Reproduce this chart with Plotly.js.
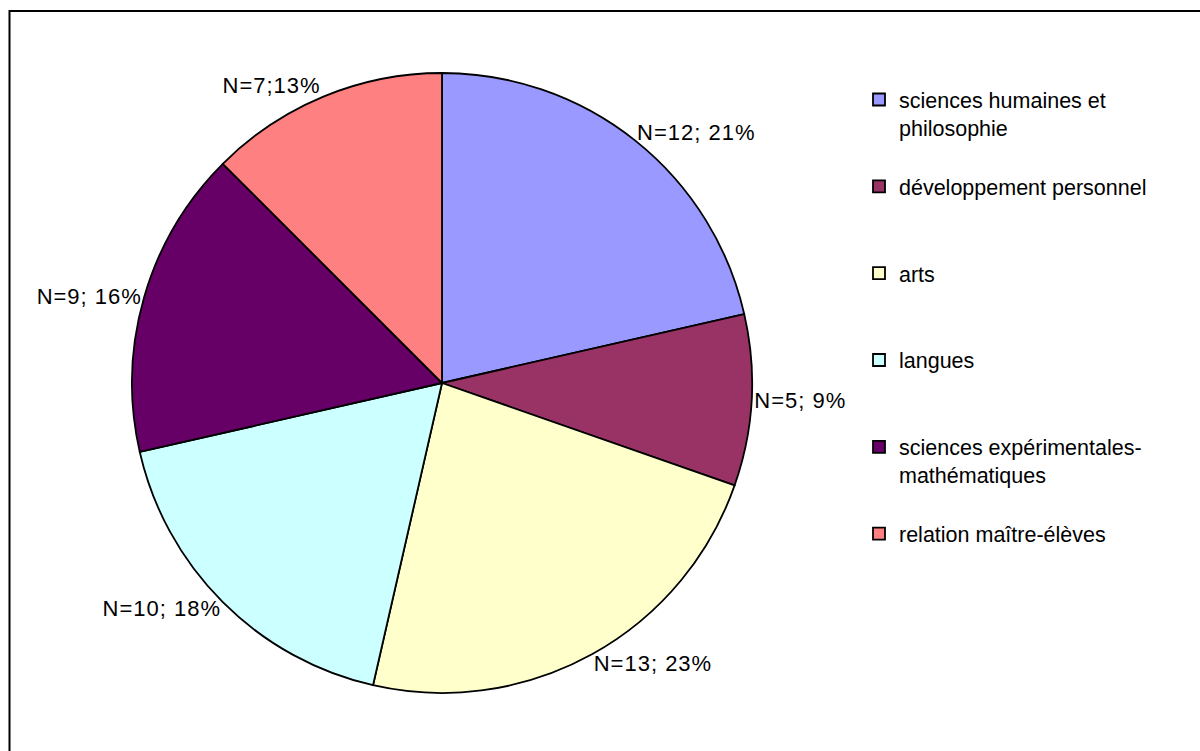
<!DOCTYPE html>
<html>
<head>
<meta charset="utf-8">
<script src="https://cdn.plot.ly/plotly-3.0.1.min.js"></script>
<style>
html,body{margin:0;padding:0;background:#fff;}
#chart{width:1200px;height:751px;}
#chart .slicetext{letter-spacing:1px;}
</style>
</head>
<body>
<div id="chart"></div>
<script>
const categories = [
  "sciences humaines et<br>philosophie",
  "développement personnel",
  "arts",
  "langues",
  "sciences expérimentales-<br>mathématiques",
  "relation maître-élèves"
];
const counts = [12, 5, 13, 10, 9, 7];
const sliceLabels = ["N=12; 21%", "N=5; 9%", "N=13; 23%", "N=10; 18%", "N=9; 16%", "N=7;13%"];
const colors = ["#9999FF", "#993366", "#FFFFCC", "#CCFFFF", "#660066", "#FF8080"];

// pad legend entries to equal 3-line height so items are evenly spaced
const legendNames = categories.map(c => {
  const n = c.split("<br>").length;
  let s = c;
  for (let i = n; i < 3; i++) s += "<br> ";
  return s;
});

const W = 1200, H = 751;
const cx = 442, cy = 383, r = 310;

const trace = {
  type: "pie",
  labels: legendNames,
  values: counts,
  text: sliceLabels,
  textinfo: "text",
  textposition: "outside",
  sort: false,
  direction: "clockwise",
  rotation: 0,
  marker: {colors: colors, line: {color: "#000000", width: 1.8}},
  outsidetextfont: {family: "Liberation Sans, Arial, sans-serif", size: 22, color: "#000000"},
  hoverinfo: "label+value",
  domain: {x: [(cx - r) / W, (cx + r) / W], y: [(H - cy - r) / H, (H - cy + r) / H]},
  automargin: false
};

const layout = {
  width: W, height: H,
  margin: {l: 0, r: 0, t: 0, b: 0},
  paper_bgcolor: "#ffffff",
  font: {family: "Liberation Sans, Arial, sans-serif", color: "#000000"},
  showlegend: true,
  legend: {
    x: 859 / W, xanchor: "left",
    y: 1 - 79 / H, yanchor: "top",
    valign: "top",
    font: {size: 21.5, color: "#000000"},
    bgcolor: "rgba(0,0,0,0)",
    borderwidth: 0,
    traceorder: "normal"
  },
  shapes: [{
    type: "rect", xref: "paper", yref: "paper",
    x0: 9.5 / W, x1: 1.01, y0: -0.01, y1: 1 - 11 / H,
    line: {color: "#000000", width: 2}, fillcolor: "rgba(0,0,0,0)"
  }]
};

Plotly.newPlot("chart", [trace], layout, {displayModeBar: false, staticPlot: true});
</script>
</body>
</html>
